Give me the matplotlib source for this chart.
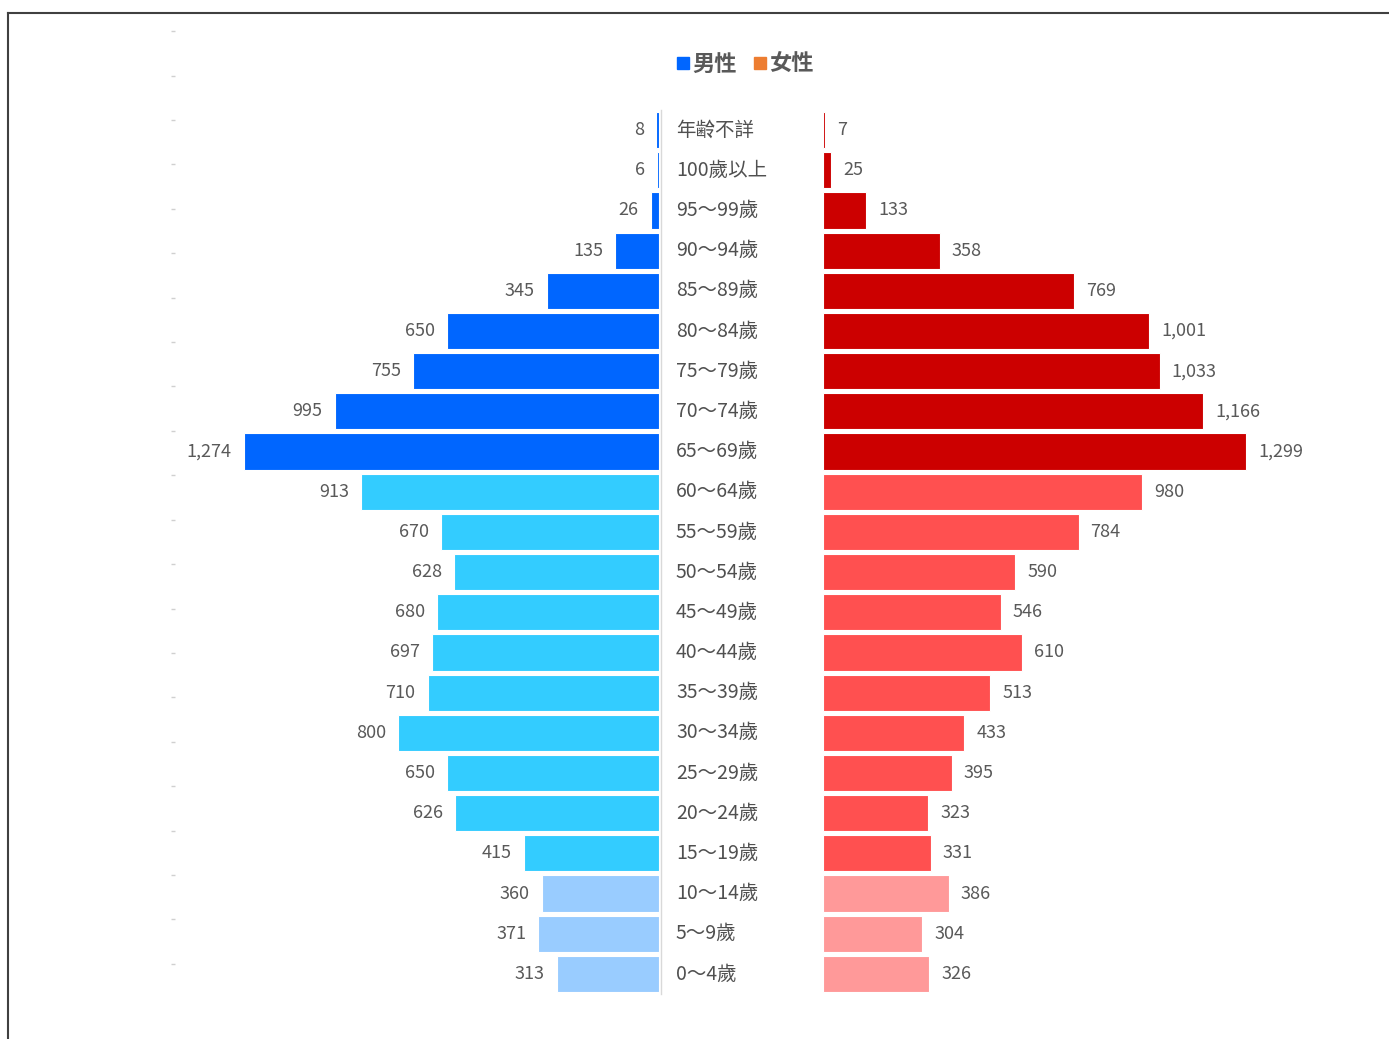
import numpy as np
import matplotlib
matplotlib.use("Agg")
import matplotlib.pyplot as plt
from matplotlib.lines import Line2D

plt.rcParams['font.family'] = ['Noto Sans CJK TC', 'DejaVu Sans']

age_groups = ["年齢不詳", "100歲以上", "95～99歲", "90～94歲", "85～89歲", "80～84歲",
              "75～79歲", "70～74歲", "65～69歲", "60～64歲", "55～59歲", "50～54歲",
              "45～49歲", "40～44歲", "35～39歲", "30～34歲", "25～29歲", "20～24歲",
              "15～19歲", "10～14歲", "5～9歲", "0～4歲"]
male = [8, 6, 26, 135, 345, 650, 755, 995, 1274, 913, 670, 628,
        680, 697, 710, 800, 650, 626, 415, 360, 371, 313]
female = [7, 25, 133, 358, 769, 1001, 1033, 1166, 1299, 980, 784, 590,
          546, 610, 513, 433, 395, 323, 331, 386, 304, 326]
# age band of each row: old (65+ and unknown), working (15-64), young (0-14)
band = ["old"] * 9 + ["work"] * 10 + ["young"] * 3

male_colors = {"old": "#0066FF", "work": "#33CCFF", "young": "#99CCFF"}
female_colors = {"old": "#CC0000", "work": "#FF5050", "young": "#FF9999"}
text_color = "#595959"

W, H = 1389, 1039
fig = plt.figure(figsize=(W / 100, H / 100), dpi=100)

n = len(age_groups)
y = np.arange(n)
xmax = 1500
scale = 0.326  # px per person
ax_w = xmax * scale / W
bottom = (H - 994) / H
height = 884 / H

ax_m = fig.add_axes([659 / W - ax_w, bottom, ax_w, height])
ax_f = fig.add_axes([823 / W, bottom, ax_w, height])

for ax in (ax_m, ax_f):
    ax.set_ylim(n - 0.5, -0.5)
    ax.set_xlim(0, xmax)
    ax.axis("off")
ax_m.invert_xaxis()

ax_m.barh(y, male, height=0.9, color=[male_colors[b] for b in band],
          edgecolor="white", linewidth=0.8)
ax_f.barh(y, female, height=0.9, color=[female_colors[b] for b in band],
          edgecolor="white", linewidth=0.8)

for i, v in enumerate(male):
    ax_m.annotate(f"{v:,}", (v, i), xytext=(-12, 0), textcoords="offset pixels",
                  ha="right", va="center", fontsize=13, color=text_color)
for i, v in enumerate(female):
    ax_f.annotate(f"{v:,}", (v, i), xytext=(12, 0), textcoords="offset pixels",
                  ha="left", va="center", fontsize=13, color=text_color)

# category labels in the middle
for i, lab in enumerate(age_groups):
    ax_f.annotate(lab, (0, i), xycoords=("axes fraction", "data"),
                  xytext=(676 - 823, 0), textcoords="offset pixels",
                  ha="left", va="center", fontsize=14, color="#505050")

# faint axis line beside the male bars
fig.add_artist(Line2D([660.5 / W, 660.5 / W], [bottom, bottom + height],
                      color="#d9d9d9", linewidth=1))

# faint tick marks at the far left
ax_t = fig.add_axes([175 / W, (H - 986) / H, 0.001, (986 - 9) / H])
ax_t.set_ylim(21.5, -0.5)
ax_t.set_yticks(y)
ax_t.set_yticklabels([])
ax_t.set_xticks([])
for s in ax_t.spines.values():
    s.set_visible(False)
ax_t.tick_params(axis="y", length=3, width=1, color="#d0d0d0")
ax_t.patch.set_alpha(0)

# frame
fig.add_artist(Line2D([8 / W, 1], [1 - 13 / H, 1 - 13 / H], color="#404040", linewidth=1.5))
fig.add_artist(Line2D([8 / W, 8 / W], [0, 1 - 13 / H], color="#404040", linewidth=1.5))

handles = [Line2D([], [], marker="s", linestyle="none", color="#0066FF", markersize=8),
           Line2D([], [], marker="s", linestyle="none", color="#ED7D31", markersize=8)]
leg = fig.legend(handles, ["男性", "女性"], loc="center", bbox_to_anchor=(744 / W, 1 - 64 / H),
                 ncol=2, frameon=False, handletextpad=0.05, columnspacing=0.6,
                 handlelength=0.8, prop={"size": 16, "weight": "bold"})
for t in leg.get_texts():
    t.set_color(text_color)

fig.savefig("out.png", dpi=100)
